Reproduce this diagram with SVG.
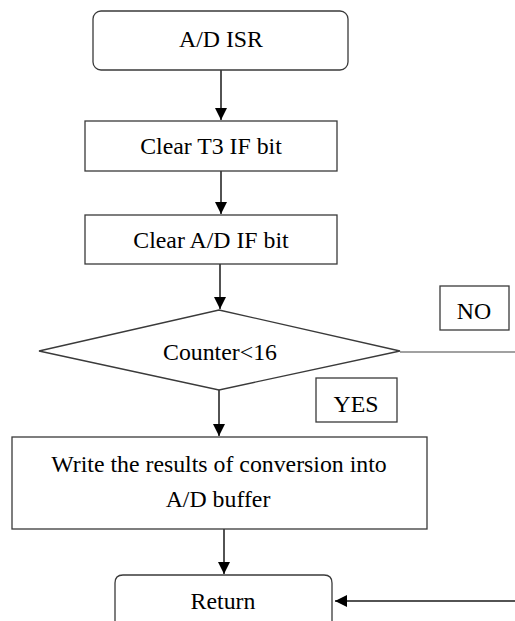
<svg xmlns="http://www.w3.org/2000/svg" width="515" height="621" viewBox="0 0 515 621">
<defs>
<style>
.box{fill:#fff;stroke:#3a3a3a;stroke-width:1.3}
.lbl{fill:#fff;stroke:#3a3a3a;stroke-width:1.3}
text{font-family:'Liberation Serif','Times New Roman',serif;font-size:23.8px;fill:#000;text-anchor:middle}
.c{stroke:#1a1a1a;stroke-width:1.5;fill:none}
</style>
<marker id="ah" markerUnits="userSpaceOnUse" markerWidth="12" markerHeight="12" viewBox="0 0 12 12" refX="12" refY="6" orient="auto">
<path d="M0,0 L12,6 L0,12 Z" fill="#000"/>
</marker>
</defs>
<rect width="515" height="621" fill="#fff"/>
<g id="connectors">
<line class="c" x1="221" y1="70" x2="221" y2="120" marker-end="url(#ah)"/>
<line class="c" x1="221" y1="171" x2="221" y2="214" marker-end="url(#ah)"/>
<line class="c" x1="220" y1="264" x2="220" y2="309" marker-end="url(#ah)"/>
<line class="c" x1="219" y1="390" x2="219" y2="436" marker-end="url(#ah)"/>
<line class="c" x1="224" y1="529" x2="224" y2="574" marker-end="url(#ah)"/>
<line class="c" x1="400" y1="352" x2="515" y2="352" style="stroke:#444;stroke-width:1.2"/>
<line class="c" x1="515" y1="601" x2="335" y2="601" marker-end="url(#ah)"/>
</g>
<g id="start">
<rect class="box" x="93" y="11" width="255" height="59" rx="8"/>
<text x="221" y="47">A/D ISR</text>
</g>
<g id="clearT3">
<rect class="box" x="85" y="121" width="252" height="50"/>
<text x="211" y="154">Clear T3 IF bit</text>
</g>
<g id="clearAD">
<rect class="box" x="85" y="215" width="252" height="49"/>
<text x="211" y="248">Clear A/D IF bit</text>
</g>
<g id="decision">
<polygon class="box" points="219,310 400,351 219,390 39,351"/>
<text x="220" y="360">Counter&lt;16</text>
</g>
<g id="no-label">
<rect class="lbl" x="440" y="286" width="69" height="44"/>
<text x="474" y="319">NO</text>
</g>
<g id="yes-label">
<rect class="lbl" x="316" y="378" width="81" height="44"/>
<text x="356" y="412">YES</text>
</g>
<g id="write">
<rect class="box" x="12" y="437" width="415" height="92"/>
<text x="219" y="472">Write the results of conversion into</text>
<text x="218" y="507">A/D buffer</text>
</g>
<g id="return">
<path class="box" d="M115,630 L115,583 Q115,575 123,575 L324,575 Q332,575 332,583 L332,630"/>
<text x="223" y="609">Return</text>
</g>
</svg>
